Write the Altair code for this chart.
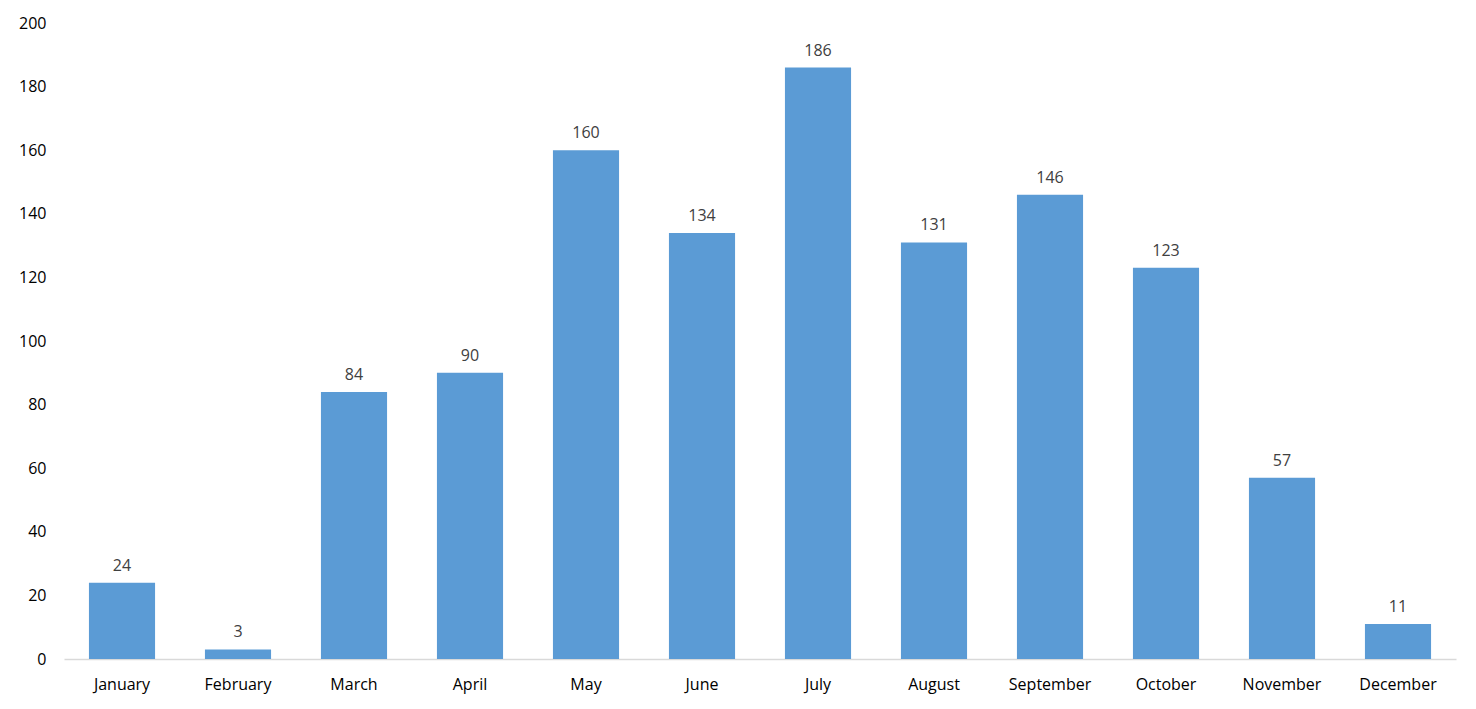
import altair as alt
import pandas as pd

months = ["January", "February", "March", "April", "May", "June", "July",
          "August", "September", "October", "November", "December"]
values = [24, 3, 84, 90, 160, 134, 186, 131, 146, 123, 57, 11]

df = pd.DataFrame({"month": months, "value": values})

FONT = "Open Sans"

base = alt.Chart(df).encode(
    x=alt.X("month:N", sort=months, title=None,
            scale=alt.Scale(paddingInner=0.43, paddingOuter=0.215),
            axis=alt.Axis(labelAngle=0, ticks=False, domainColor="#d9d9d9",
                          domainWidth=1.5, labelPadding=17, labelFontSize=16,
                          labelColor="#000000", labelFont=FONT)),
    y=alt.Y("value:Q", title=None,
            scale=alt.Scale(domain=[0, 200], nice=False),
            axis=alt.Axis(values=list(range(0, 201, 20)), grid=False, domain=False,
                          ticks=False, labelPadding=18, labelFontSize=16,
                          labelColor="#000000", labelFont=FONT)),
)

bars = base.mark_bar(color="#5B9BD5")
labels = base.mark_text(baseline="bottom", dy=-9, fontSize=16, color="#404040",
                        font=FONT).encode(text="value:Q")

chart = (bars + labels).properties(
    width=1392, height=636,
    background="white",
    autosize=alt.AutoSizeParams(type="none"),
    padding={"left": 56, "top": 15, "right": 12, "bottom": 40},
).configure_view(strokeWidth=0, stroke=None)

chart.save("out.html", embed_options={"renderer": "svg", "actions": False})
